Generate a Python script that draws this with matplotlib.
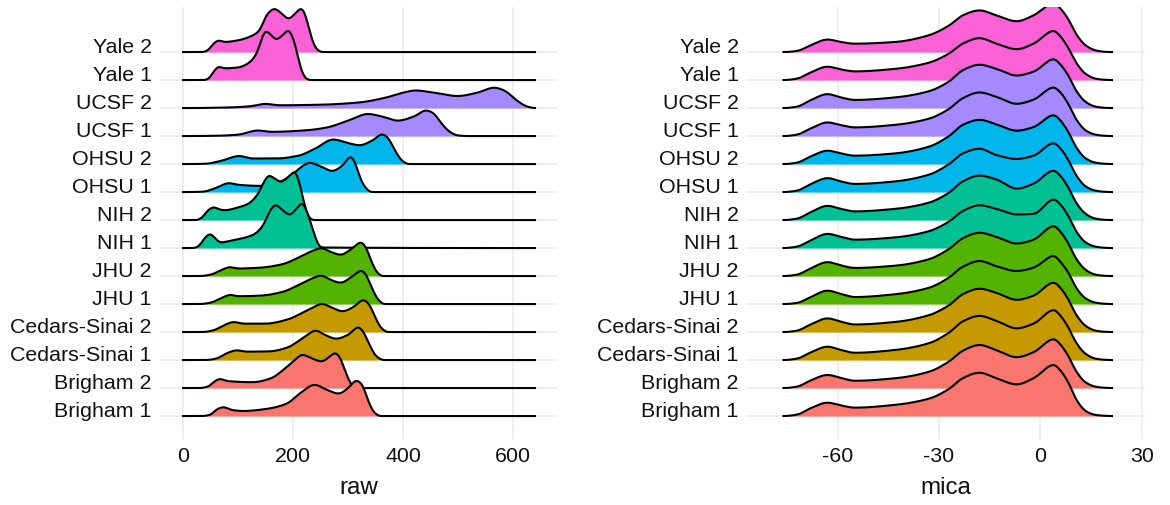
import numpy as np
import matplotlib
matplotlib.use("Agg")
import matplotlib.pyplot as plt

plt.rcParams['font.family'] = ['Liberation Sans', 'DejaVu Sans']

# rows, top to bottom
labels = ["Yale 2", "Yale 1", "UCSF 2", "UCSF 1", "OHSU 2", "OHSU 1", "NIH 2", "NIH 1",
          "JHU 2", "JHU 1", "Cedars-Sinai 2", "Cedars-Sinai 1", "Brigham 2", "Brigham 1"]
sites = ["Yale", "Yale", "UCSF", "UCSF", "OHSU", "OHSU", "NIH", "NIH",
         "JHU", "JHU", "Cedars-Sinai", "Cedars-Sinai", "Brigham", "Brigham"]
site_colors = {"Brigham": "#F8766D", "Cedars-Sinai": "#C49A00", "JHU": "#53B400",
               "NIH": "#00C094", "OHSU": "#00B6EB", "UCSF": "#A58AFF", "Yale": "#FB61D7"}

# raw: ridge outline, (x, height in row units)
raw_x = [
    [0, 35, 45, 55, 65, 75, 100, 125, 139, 151, 166, 175, 192, 205, 215, 222, 232, 242, 252, 640],
    [0, 40, 48, 57, 65, 75, 100, 120, 135, 143, 150, 158, 169, 182, 191, 200, 208, 215, 225, 232, 640],
    [0, 80, 120, 150, 175, 250, 320, 370, 400, 423, 450, 500, 535, 566, 585, 605, 625, 640],
    [0, 60, 100, 136, 160, 220, 260, 300, 336, 365, 390, 420, 442, 455, 470, 485, 500, 520, 640],
    [0, 40, 70, 102, 125, 170, 210, 240, 273, 300, 321, 345, 362, 372, 385, 398, 410, 640],
    [0, 35, 60, 83, 100, 140, 175, 200, 215, 230, 250, 271, 290, 304, 312, 320, 330, 342, 640],
    [0, 25, 35, 45, 56, 66, 75, 100, 120, 135, 148, 156, 165, 178, 192, 203, 212, 220, 228, 236, 640],
    [0, 20, 30, 40, 50, 58, 68, 90, 110, 130, 145, 160, 168, 178, 194, 208, 217, 225, 233, 241, 250, 640],
    [0, 30, 50, 70, 85, 100, 140, 180, 212, 235, 251, 270, 287, 305, 324, 333, 343, 352, 362, 640],
    [0, 30, 50, 70, 86, 100, 140, 180, 212, 235, 251, 270, 287, 305, 325, 334, 345, 355, 365, 640],
    [0, 35, 55, 75, 92, 110, 150, 190, 220, 240, 252, 270, 290, 310, 328, 338, 350, 360, 372, 640],
    [0, 40, 60, 80, 98, 115, 157, 190, 215, 232, 240, 258, 278, 300, 319, 328, 340, 352, 365, 640],
    [0, 30, 45, 58, 67, 80, 127, 160, 181, 200, 217, 235, 252, 265, 277, 285, 295, 305, 315, 640],
    [0, 35, 50, 62, 74, 88, 109, 150, 188, 215, 239, 260, 283, 300, 315, 325, 333, 340, 348, 358, 640],
]
raw_h = [
    [0, 0, 0.06, 0.3, 0.42, 0.36, 0.42, 0.58, 0.77, 1.3, 1.55, 1.45, 1.19, 1.4, 1.57, 1.35, 0.6, 0.12, 0, 0],
    [0, 0, 0.08, 0.35, 0.48, 0.42, 0.45, 0.62, 1.0, 1.5, 1.76, 1.65, 1.45, 1.62, 1.79, 1.5, 0.9, 0.35, 0.03, 0, 0],
    [0, 0.02, 0.06, 0.15, 0.1, 0.12, 0.2, 0.38, 0.55, 0.63, 0.57, 0.43, 0.55, 0.73, 0.62, 0.3, 0.06, 0],
    [0, 0.01, 0.05, 0.2, 0.15, 0.2, 0.3, 0.55, 0.79, 0.68, 0.55, 0.7, 0.92, 0.82, 0.45, 0.15, 0.02, 0, 0],
    [0, 0.01, 0.12, 0.29, 0.2, 0.2, 0.3, 0.55, 0.88, 0.75, 0.67, 0.85, 1.07, 0.95, 0.5, 0.12, 0, 0],
    [0, 0.01, 0.15, 0.32, 0.26, 0.22, 0.36, 0.65, 0.9, 1.05, 0.92, 0.75, 0.95, 1.27, 1.1, 0.6, 0.2, 0, 0],
    [0, 0, 0.1, 0.35, 0.46, 0.38, 0.35, 0.45, 0.6, 0.9, 1.4, 1.6, 1.5, 1.36, 1.55, 1.74, 1.3, 0.6, 0.12, 0, 0],
    [0, 0, 0.1, 0.38, 0.51, 0.35, 0.2, 0.28, 0.36, 0.5, 0.8, 1.4, 1.55, 1.4, 1.19, 1.45, 1.62, 1.3, 0.85, 0.35, 0.02, 0],
    [0, 0, 0.05, 0.22, 0.32, 0.27, 0.3, 0.42, 0.68, 0.9, 1.0, 0.85, 0.76, 0.95, 1.21, 1.0, 0.5, 0.15, 0, 0],
    [0, 0, 0.05, 0.22, 0.33, 0.28, 0.3, 0.43, 0.7, 0.92, 1.02, 0.85, 0.76, 0.95, 1.2, 1.0, 0.5, 0.15, 0, 0],
    [0, 0, 0.06, 0.25, 0.36, 0.3, 0.3, 0.45, 0.72, 0.92, 1.01, 0.88, 0.74, 0.9, 1.15, 1.0, 0.5, 0.15, 0, 0],
    [0, 0, 0.05, 0.25, 0.35, 0.3, 0.31, 0.45, 0.75, 0.98, 1.06, 0.9, 0.76, 0.9, 1.18, 1.0, 0.5, 0.12, 0, 0],
    [0, 0, 0.05, 0.25, 0.33, 0.25, 0.21, 0.35, 0.63, 0.95, 1.19, 1.05, 0.95, 1.1, 1.26, 1.1, 0.6, 0.15, 0, 0],
    [0, 0, 0.05, 0.25, 0.32, 0.22, 0.18, 0.25, 0.44, 0.85, 1.12, 0.95, 0.8, 1.0, 1.27, 1.15, 0.75, 0.38, 0.12, 0, 0],
]

# mica: same x knots for every row
mica_x = [-76, -72, -68, -63, -59, -55, -43, -33, -27, -23, -18, -13, -7, -2, 4, 6, 8.5, 10.5, 13.4, 16.3, 19, 21.2]
mica_h = [
    [0, 0.04, 0.24, 0.45, 0.36, 0.3, 0.36, 0.6, 0.95, 1.31, 1.49, 1.31, 1.1, 1.31, 1.75, 1.55, 1.13, 0.66, 0.24, 0.06, 0.01, 0],
    [0, 0.05, 0.27, 0.48, 0.38, 0.31, 0.4, 0.62, 0.95, 1.3, 1.5, 1.3, 1.1, 1.3, 1.76, 1.55, 1.1, 0.64, 0.22, 0.05, 0.01, 0],
    [0, 0.05, 0.28, 0.5, 0.38, 0.29, 0.38, 0.6, 0.95, 1.35, 1.55, 1.4, 1.16, 1.3, 1.75, 1.55, 1.12, 0.64, 0.22, 0.05, 0.01, 0],
    [0, 0.05, 0.27, 0.49, 0.39, 0.31, 0.4, 0.62, 0.97, 1.35, 1.56, 1.4, 1.15, 1.3, 1.74, 1.55, 1.1, 0.62, 0.2, 0.05, 0.01, 0],
    [0, 0.05, 0.27, 0.48, 0.38, 0.3, 0.38, 0.62, 1.0, 1.4, 1.58, 1.42, 1.19, 1.32, 1.75, 1.55, 1.1, 0.62, 0.2, 0.05, 0.01, 0],
    [0, 0.05, 0.28, 0.5, 0.38, 0.29, 0.38, 0.62, 1.0, 1.38, 1.55, 1.32, 1.18, 1.3, 1.75, 1.55, 1.1, 0.62, 0.2, 0.05, 0.01, 0],
    [0, 0.05, 0.28, 0.51, 0.4, 0.31, 0.4, 0.62, 0.98, 1.38, 1.59, 1.45, 1.12, 1.3, 1.77, 1.57, 1.12, 0.64, 0.22, 0.05, 0.01, 0],
    [0, 0.05, 0.27, 0.51, 0.4, 0.3, 0.38, 0.6, 0.95, 1.32, 1.53, 1.4, 1.2, 1.22, 1.74, 1.55, 1.1, 0.62, 0.2, 0.05, 0.01, 0],
    [0, 0.05, 0.27, 0.5, 0.38, 0.29, 0.37, 0.6, 0.97, 1.35, 1.55, 1.4, 1.16, 1.3, 1.79, 1.58, 1.12, 0.64, 0.22, 0.05, 0.01, 0],
    [0, 0.04, 0.25, 0.48, 0.36, 0.25, 0.35, 0.58, 0.95, 1.33, 1.54, 1.35, 1.18, 1.3, 1.72, 1.5, 1.08, 0.6, 0.2, 0.05, 0.01, 0],
    [0, 0.05, 0.27, 0.49, 0.37, 0.27, 0.36, 0.6, 0.96, 1.35, 1.55, 1.4, 1.15, 1.3, 1.77, 1.57, 1.12, 0.64, 0.22, 0.05, 0.01, 0],
    [0, 0.05, 0.27, 0.48, 0.36, 0.26, 0.36, 0.6, 0.98, 1.38, 1.58, 1.4, 1.13, 1.3, 1.79, 1.58, 1.12, 0.64, 0.22, 0.05, 0.01, 0],
    [0, 0.05, 0.27, 0.47, 0.36, 0.26, 0.35, 0.58, 0.95, 1.33, 1.54, 1.35, 1.1, 1.28, 1.75, 1.55, 1.1, 0.62, 0.2, 0.05, 0.01, 0],
    [0, 0.05, 0.28, 0.48, 0.38, 0.3, 0.4, 0.62, 0.97, 1.35, 1.55, 1.35, 1.13, 1.35, 1.83, 1.62, 1.15, 0.62, 0.18, 0.04, 0.01, 0],
]

raw_ticks = [0, 200, 400, 600]
mica_ticks = [-60, -30, 0, 30]


def smooth(xk, yk, n=1200, soft=0.005):
    # monotone cubic (Fritsch-Carlson) through the read points, lightly softened
    xk = np.asarray(xk, float)
    yk = np.asarray(yk, float)
    h = np.diff(xk)
    d = np.diff(yk) / h
    m = np.zeros_like(yk)
    for k in range(1, len(xk) - 1):
        if d[k - 1] * d[k] > 0:
            w1 = 2 * h[k] + h[k - 1]
            w2 = h[k] + 2 * h[k - 1]
            m[k] = (w1 + w2) / (w1 / d[k - 1] + w2 / d[k])
    xs = np.linspace(xk[0], xk[-1], n)
    i = np.clip(np.searchsorted(xk, xs) - 1, 0, len(h) - 1)
    t = (xs - xk[i]) / h[i]
    h00 = 2 * t**3 - 3 * t**2 + 1
    h10 = t**3 - 2 * t**2 + t
    h01 = -2 * t**3 + 3 * t**2
    h11 = t**3 - t**2
    ys = h00 * yk[i] + h10 * h[i] * m[i] + h01 * yk[i + 1] + h11 * h[i] * m[i + 1]
    # soften the knots a little so the outline looks like a density
    sig = soft * n
    kx = np.arange(-int(4 * sig), int(4 * sig) + 1)
    kern = np.exp(-0.5 * (kx / sig) ** 2)
    kern /= kern.sum()
    pad = len(kx) // 2
    ys = np.convolve(np.pad(ys, pad, mode="edge"), kern, mode="valid")
    return xs, np.maximum(ys, 0)


def ridges(ax, xlists, hlists, xlim, ticks, xlabel):
    n = len(labels)
    for j in range(n):
        base = n - 1 - j
        xs, ys = smooth(xlists[j], hlists[j])
        ax.axhline(base, color="#ebebeb", lw=1.2, zorder=0.5)
        ax.fill_between(xs, base, base + ys, color=site_colors[sites[j]], lw=0, zorder=1 + j)
        ax.plot(xs, base + ys, color="black", lw=1.5, zorder=1 + j + 0.5)
    ax.set_xlim(*xlim)
    ax.set_ylim(-0.82, 14.61)
    ax.set_xticks(ticks)
    ax.set_xticklabels([str(t) for t in ticks])
    ax.set_yticks(range(n))
    ax.set_yticklabels(labels[::-1])
    for lbl in ax.get_yticklabels():
        lbl.set_verticalalignment("baseline")
    ax.grid(axis="x", color="#ebebeb", lw=1.2)
    ax.set_axisbelow(True)
    ax.tick_params(length=0, labelsize=15.4, colors="#111111")
    ax.tick_params(axis="y", pad=6)
    ax.tick_params(axis="x", pad=5)
    for s in ax.spines.values():
        s.set_visible(False)
    ax.set_xlabel(xlabel, fontsize=17.4, labelpad=8, color="#111111")


fig = plt.figure(figsize=(11.7, 5.06), dpi=100)
ax1 = fig.add_axes([0.1368, 0.1304, 0.3402, 0.8538])
ax2 = fig.add_axes([0.6385, 0.1304, 0.3402, 0.8538])

ridges(ax1, raw_x, raw_h, (-42, 682), raw_ticks, "raw")
ridges(ax2, [mica_x] * len(labels), mica_h, (-86.8, 31), mica_ticks, "mica")

fig.savefig("out.png", dpi=100)
